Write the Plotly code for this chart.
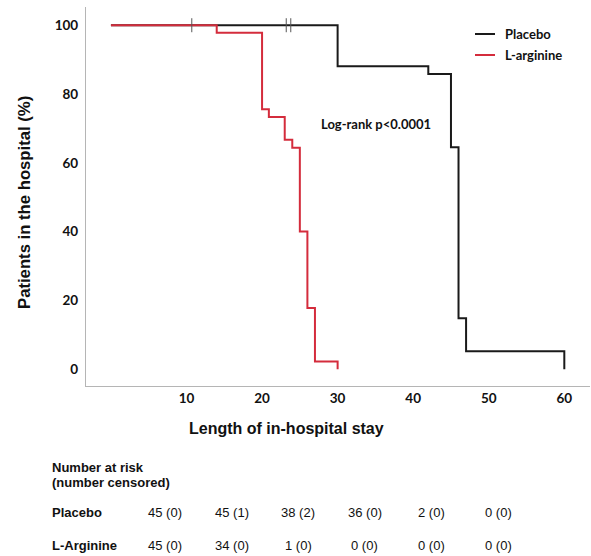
import plotly.graph_objects as go

# ---- data ----
placebo_time = [0, 30, 42, 45, 46, 47, 60]
placebo_surv = [100, 88.1, 85.8, 64.5, 14.8, 5.2, 0]
placebo_censor_time = [10.7, 23.2, 23.8]
placebo_censor_surv = [100, 100, 100]

arg_time = [0, 14, 20, 20.9, 23, 24, 25, 26, 27, 30]
arg_surv = [100, 97.8, 75.6, 73.3, 66.7, 64.4, 40, 17.8, 2.2, 0]

x_ticks = [10, 20, 30, 40, 50, 60]
y_ticks = [0, 20, 40, 60, 80, 100]

risk_placebo = ["45 (0)", "45 (1)", "38 (2)", "36 (0)", "2 (0)", "0 (0)"]
risk_arg = ["45 (0)", "34 (0)", "1 (0)", "0 (0)", "0 (0)", "0 (0)"]

BLACK = "#1a1a1a"
RED = "#d42c3c"

W, H = 591, 556
ML, MR, MT, MB = 86, 1, 7, 170
PW = W - ML - MR
PH = H - MT - MB


def px(x):
    return (x - ML) / PW


def py(y):
    return (H - MB - y) / PH


fig = go.Figure()
fig.add_trace(go.Scatter(x=placebo_time, y=placebo_surv, mode="lines", line_shape="hv",
                         line=dict(color=BLACK, width=2), name="Placebo", showlegend=False))
fig.add_trace(go.Scatter(x=arg_time, y=arg_surv, mode="lines", line_shape="hv",
                         line=dict(color=RED, width=2), name="L-arginine", showlegend=False))
fig.add_trace(go.Scatter(x=placebo_censor_time, y=placebo_censor_surv, mode="markers",
                         marker=dict(symbol="line-ns", size=10, line=dict(color="#555555", width=1)),
                         showlegend=False, hoverinfo="skip"))

fig.update_xaxes(range=[-3.3, 63.4], tickvals=x_ticks, showgrid=False, zeroline=False,
                 showline=True, linecolor="#b5b5b5", linewidth=1.3, ticks="",
                 automargin=False,
                 tickfont=dict(family="Lato", size=13.5, color="#111111", weight="bold"))
fig.update_yaxes(range=[-4.9, 105.3], tickvals=y_ticks, showgrid=False, zeroline=False,
                 showline=True, linecolor="#b5b5b5", linewidth=1.3, ticks="",
                 ticklabelstandoff=4, automargin=False,
                 tickfont=dict(family="Lato", size=13.5, color="#111111", weight="bold"))

ann = []
ann.append(dict(text="<b>Patients in the hospital (%)</b>", xref="paper", yref="paper",
                x=px(24), y=py(203), xanchor="center", yanchor="middle", textangle=-90,
                showarrow=False,
                font=dict(family="Liberation Sans", size=16.7, color="#111111")))
ann.append(dict(text="<b>Length of in-hospital stay</b>", xref="paper", yref="paper",
                x=px(286), y=py(428), xanchor="center", yanchor="middle", showarrow=False,
                font=dict(family="Liberation Sans", size=16, color="#111111")))
ann.append(dict(text="<b>Log-rank p<0.0001</b>", xref="paper", yref="paper",
                x=px(376), y=py(124), xanchor="center", yanchor="middle", showarrow=False,
                font=dict(family="Lato", size=13, color="#111111")))

lab_font = dict(family="Liberation Sans", size=13, color="#111111")
for txt, yy in [("<b>Number at risk</b>", 467), ("<b>(number censored)</b>", 482),
                ("<b>Placebo</b>", 512), ("<b>L-Arginine</b>", 545)]:
    ann.append(dict(text=txt, xref="paper", yref="paper", xanchor="left", yanchor="middle",
                    x=px(50), y=py(yy), showarrow=False, font=lab_font))

col_x0, col_dx = 165, 66.6
for i, (a, b) in enumerate(zip(risk_placebo, risk_arg)):
    cx = col_x0 + i * col_dx
    ann.append(dict(text=a, xref="paper", yref="paper", x=px(cx), y=py(512),
                    xanchor="center", yanchor="middle", showarrow=False, font=lab_font))
    ann.append(dict(text=b, xref="paper", yref="paper", x=px(cx), y=py(545),
                    xanchor="center", yanchor="middle", showarrow=False, font=lab_font))

# manual legend
leg_font = dict(family="Lato", size=13, color="#111111", weight="bold")
shapes = []
for name, col, yy in [("Placebo", BLACK, 34), ("L-arginine", RED, 55)]:
    shapes.append(dict(type="line", xref="paper", yref="paper",
                       x0=px(475), x1=px(495), y0=py(yy), y1=py(yy),
                       line=dict(color=col, width=2)))
    ann.append(dict(text=name, xref="paper", yref="paper", x=px(503), y=py(yy),
                    xanchor="left", yanchor="middle", showarrow=False, font=leg_font))

fig.update_layout(
    width=W, height=H, autosize=False,
    margin=dict(l=ML, r=MR, t=MT, b=MB),
    paper_bgcolor="white", plot_bgcolor="white",
    annotations=ann, shapes=shapes,
    showlegend=False,
)

fig.write_html("out.html", config={"displayModeBar": False},
               post_script="document.body.style.margin='0';document.body.style.overflow='hidden';")
